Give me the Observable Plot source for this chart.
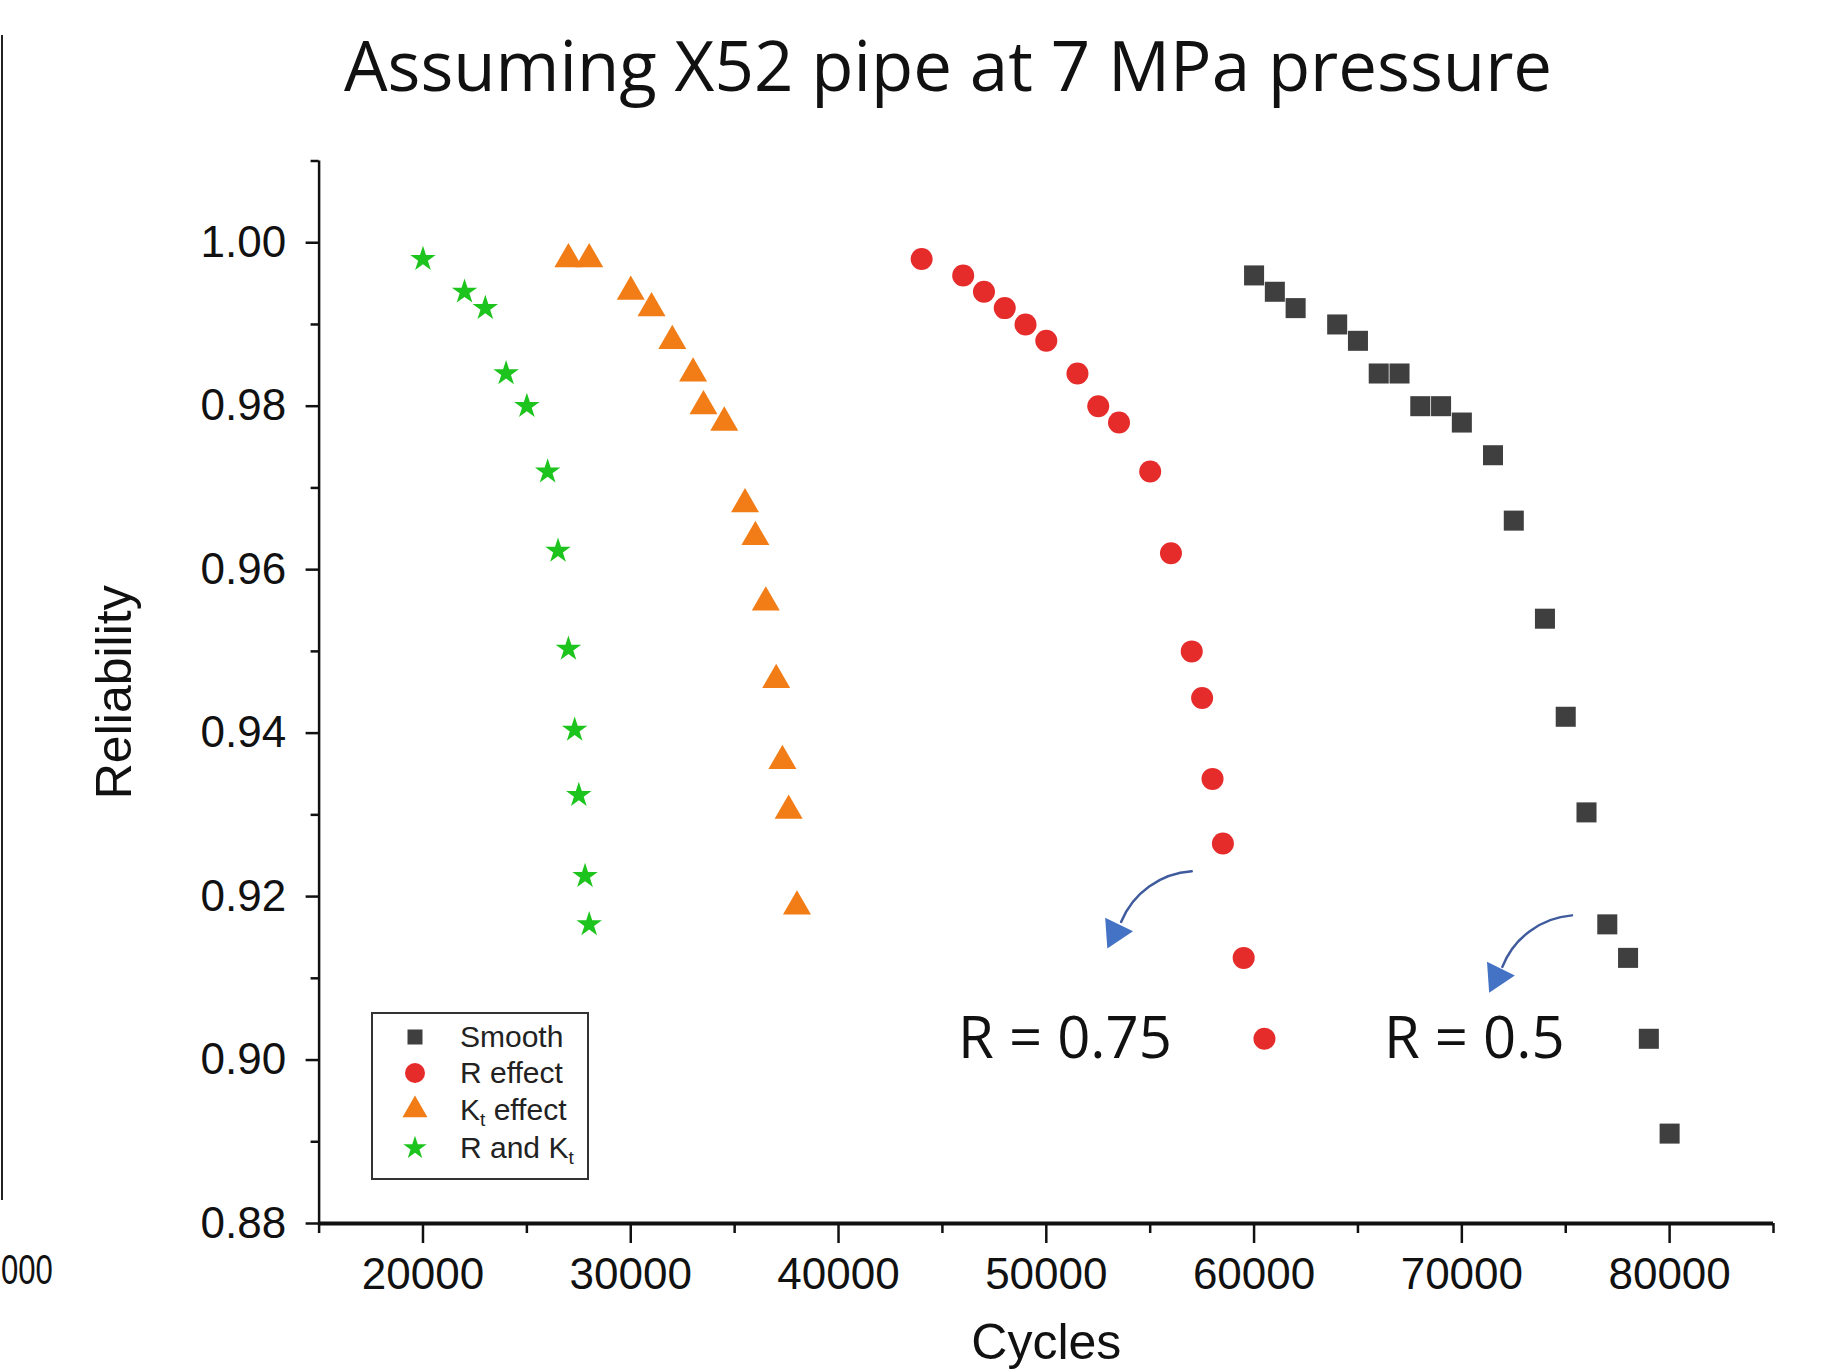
<!DOCTYPE html>
<html>
<head>
<meta charset="utf-8">
<script src="https://cdn.jsdelivr.net/npm/d3@7"></script>
<script src="https://cdn.jsdelivr.net/npm/@observablehq/plot@0.6"></script>
<style>
html, body { margin: 0; padding: 0; background: #fff; overflow: hidden; width: 1835px; height: 1369px; }
#wrap { position: relative; width: 1835px; height: 1369px; background: #fff; }
#title { position: absolute; left: 148px; width: 1600px; top: 30px; text-align: center;
  font-family: "Open Sans", sans-serif; font-size: 69px; line-height: 69px; color: #111; white-space: nowrap; }
#chart { position: absolute; left: 0; top: 130px; }
#legend { position: absolute; left: 371px; top: 1012px; width: 214px; height: 164px;
  border: 2px solid #333; background: #fff; font-family: "Liberation Sans", Arial, sans-serif; font-size: 30px; color: #222; }
.row { position: absolute; left: 0; height: 36px; width: 214px; }
.row svg { position: absolute; left: 27px; top: 0; }
.row span { position: absolute; left: 87px; top: 0; line-height: 36px; white-space: nowrap; }
.row sub { font-size: 19px; vertical-align: -6px; }
#edge { position: absolute; left: 1px; top: 35px; width: 2px; height: 1165px; background: #222; }
#edgeText { position: absolute; left: 1px; top: 1249px; font-family: "Liberation Sans", Arial, sans-serif;
  font-size: 42px; line-height: 42px; color: #111; white-space: nowrap; transform: scaleX(0.74); transform-origin: left top; }
</style>
</head>
<body>
<div id="wrap">
  <div id="edge"></div>
  <div id="edgeText">000</div>
  <div id="title">Assuming X52 pipe at 7 MPa pressure</div>
  <div id="chart"></div>
  <div id="legend"></div>
</div>
<script>
// ---- data ----
const smoothCycles = [60000, 61000, 62000, 64000, 65000, 66000, 67000, 68000, 69000, 70000, 71500, 72500, 74000, 75000, 76000, 77000, 78000, 79000, 80000];
const smoothRel    = [0.996, 0.994, 0.992, 0.990, 0.988, 0.984, 0.984, 0.980, 0.980, 0.978, 0.974, 0.966, 0.954, 0.942, 0.9303, 0.9166, 0.9125, 0.9026, 0.891];

const rEffectCycles = [44000, 46000, 47000, 48000, 49000, 50000, 51500, 52500, 53500, 55000, 56000, 57000, 57500, 58000, 58500, 59500, 60500];
const rEffectRel    = [0.998, 0.996, 0.994, 0.992, 0.990, 0.988, 0.984, 0.980, 0.978, 0.972, 0.962, 0.950, 0.9443, 0.9344, 0.9265, 0.9125, 0.9026];

const ktCycles = [27000, 28000, 30000, 31000, 32000, 33000, 33500, 34500, 35500, 36000, 36500, 37000, 37300, 37600, 38000];
const ktRel    = [0.998, 0.998, 0.994, 0.992, 0.988, 0.984, 0.980, 0.978, 0.968, 0.964, 0.956, 0.9465, 0.9366, 0.9305, 0.9188];

const bothCycles = [20000, 22000, 23000, 24000, 25000, 26000, 26500, 27000, 27300, 27500, 27800, 28000];
const bothRel    = [0.998, 0.994, 0.992, 0.984, 0.980, 0.972, 0.9623, 0.9503, 0.9404, 0.9324, 0.9225, 0.9166];

const xMajorTicks = [20000, 30000, 40000, 50000, 60000, 70000, 80000];
const xMinorTicks = [15000, 25000, 35000, 45000, 55000, 65000, 75000, 85000];
const yMajorTicks = [0.88, 0.90, 0.92, 0.94, 0.96, 0.98, 1.00];
const yMinorTicks = [0.89, 0.91, 0.93, 0.95, 0.97, 0.99, 1.01];

const annoLabels = ["R = 0.75", "R = 0.5"];
const annoCycles = [50900, 70600];
const annoRel    = [0.9025, 0.9025];

const arrowFromCycles = [57000, 75300];
const arrowFromRel    = [0.9231, 0.9177];
const arrowToCycles   = [53600, 71950];
const arrowToRel      = [0.9169, 0.9114];
const headCycles      = [53315, 71692];
const headRel         = [0.9156, 0.9102];

const legendLabels = ["Smooth", "R effect", "K<sub>t</sub> effect", "R and K<sub>t</sub>"];

// ---- tables ----
const zip = (xs, ys) => xs.map((c, i) => ({cycles: c, rel: ys[i]}));
const smooth = zip(smoothCycles, smoothRel);
const rEffect = zip(rEffectCycles, rEffectRel);
const kt = zip(ktCycles, ktRel);
const both = zip(bothCycles, bothRel);
const annos = annoLabels.map((t, i) => ({t, cycles: annoCycles[i], rel: annoRel[i]}));
const arrows = arrowFromCycles.map((c, i) => ({x1: c, y1: arrowFromRel[i], x2: arrowToCycles[i], y2: arrowToRel[i]}));
const heads = zip(headCycles, headRel);

const colors = {smooth: "#3f3f3f", r: "#e62b2b", kt: "#f27d17", both: "#1ec41e"};

const chart = Plot.plot({
  width: 1835,
  height: 1239,
  marginLeft: 318.6,
  marginRight: 62,
  marginTop: 30.5,
  marginBottom: 146,
  style: {fontFamily: "'Liberation Sans', Arial, sans-serif", fontSize: "44px", color: "#111", background: "transparent"},
  x: {domain: [15000, 85000]},
  y: {domain: [0.88, 1.01]},
  marks: [
    Plot.axisY({ticks: yMajorTicks, tickSize: 13, tickPadding: 20, tickFormat: d3.format(".2f"), strokeWidth: 2.5, fontSize: 44, label: null}),
    Plot.axisY({ticks: yMinorTicks, tickSize: 8, text: null, strokeWidth: 2.5, label: null}),
    Plot.axisX({ticks: xMajorTicks, tickSize: 20, tickPadding: 14, tickFormat: d3.format("d"), strokeWidth: 2.5, fontSize: 44, label: null}),
    Plot.axisX({ticks: xMinorTicks, tickSize: 10, text: null, strokeWidth: 2.5, label: null}),
    Plot.ruleX([15000], {stroke: "#111", strokeWidth: 2.5}),
    Plot.ruleY([0.88], {stroke: "#111", strokeWidth: 4}),
    Plot.text(["Reliability"], {text: d => d, frameAnchor: "left", rotate: -90, dx: -188, textAnchor: "middle", lineAnchor: "bottom", fontSize: 50, fill: "#111"}),
    Plot.text(["Cycles"], {text: d => d, frameAnchor: "bottom", dy: 100, textAnchor: "middle", lineAnchor: "top", fontSize: 50, fill: "#111"}),
    Plot.dot(smooth, {x: "cycles", y: "rel", symbol: "square", r: 11.3, fill: colors.smooth, stroke: "none"}),
    Plot.dot(rEffect, {x: "cycles", y: "rel", symbol: "circle", r: 11, fill: colors.r, stroke: "none"}),
    Plot.dot(kt, {x: "cycles", y: "rel", symbol: "triangle", r: 10.4, fill: colors.kt, stroke: "none"}),
    Plot.dot(both, {x: "cycles", y: "rel", symbol: "star", r: 8, fill: colors.both, stroke: "none"}),
    Plot.arrow(arrows, {x1: "x1", y1: "y1", x2: "x2", y2: "y2", bend: -32, headLength: 0, stroke: "#3f5b9e", strokeWidth: 2.5}),
    Plot.dot(heads, {x: "cycles", y: "rel", symbol: "triangle", r: 11.5, rotate: 206, fill: "#4472c4", stroke: "none"}),
    Plot.text(annos, {x: "cycles", y: "rel", text: "t", fontFamily: "'Open Sans', sans-serif", fontSize: 58, fill: "#111", lineAnchor: "middle"})
  ]
});
document.getElementById("chart").appendChild(chart);

// ---- legend ----
const legendSymbols = [
  {sym: d3.symbolSquare, size: 225, color: colors.smooth},
  {sym: d3.symbolCircle, size: 314, color: colors.r},
  {sym: d3.symbolTriangle, size: 270, color: colors.kt},
  {sym: d3.symbolStar, size: 170, color: colors.both}
];
const rowCenters = [23, 59, 96, 134];
const legend = document.getElementById("legend");
legendLabels.forEach((lab, i) => {
  const row = document.createElement("div");
  row.className = "row";
  row.style.top = (rowCenters[i] - 18) + "px";
  const path = d3.symbol(legendSymbols[i].sym, legendSymbols[i].size)();
  row.innerHTML = `<svg width="30" height="36" viewBox="-15 -18 30 36"><path d="${path}" fill="${legendSymbols[i].color}"/></svg><span>${lab}</span>`;
  legend.appendChild(row);
});
</script>
</body>
</html>
